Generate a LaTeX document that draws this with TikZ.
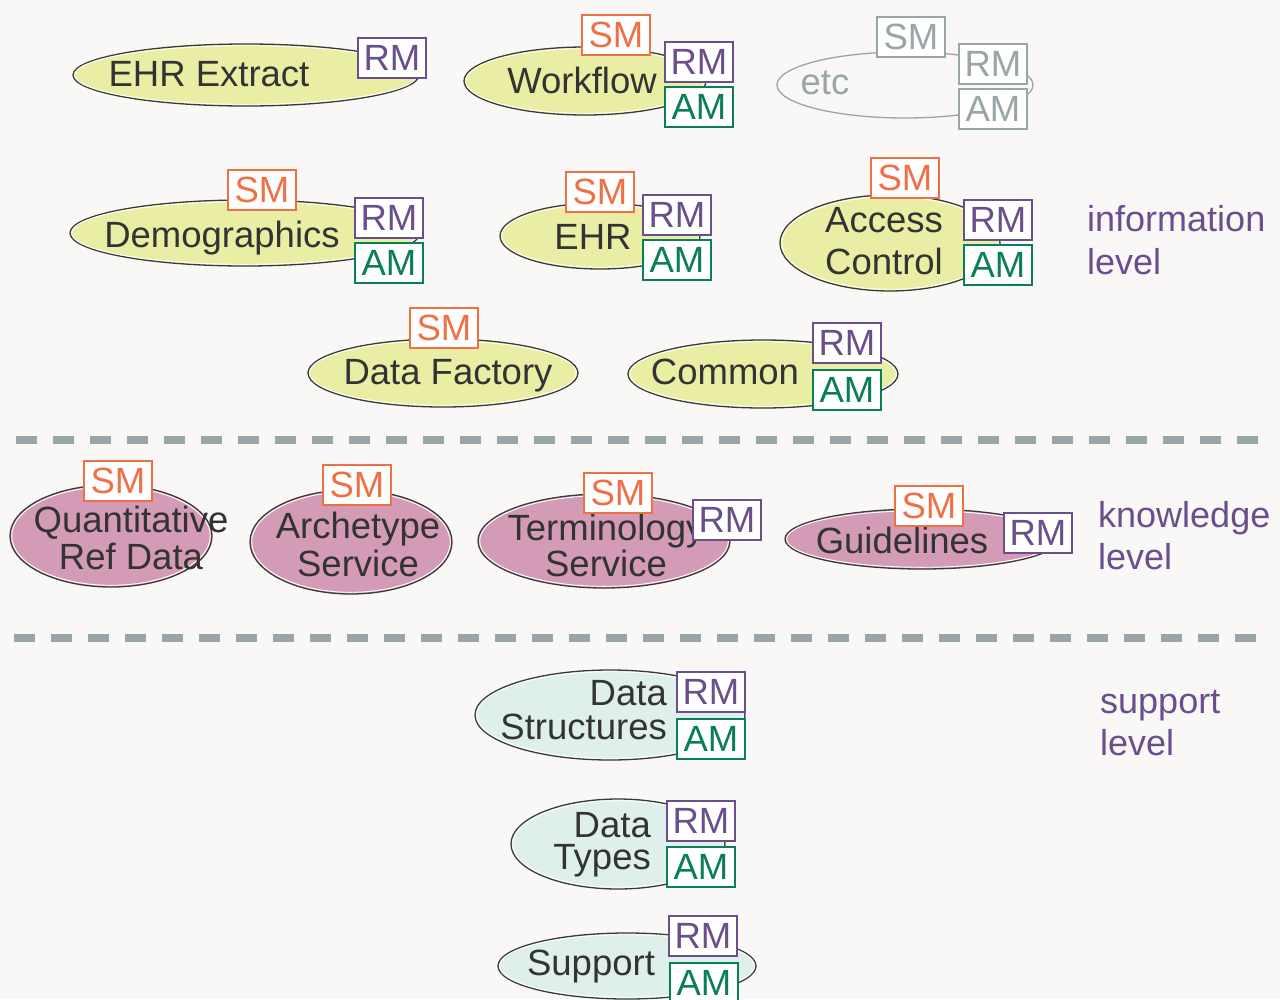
\documentclass[tikz,border=0pt]{standalone}
\usepackage{fontspec}
\setmainfont{Liberation Sans}
\usetikzlibrary{shapes.geometric}

\definecolor{bgc}{HTML}{F9F8F7}
\definecolor{infofill}{HTML}{E9EEA4}
\definecolor{knowfill}{HTML}{D49BB6}
\definecolor{suppfill}{HTML}{DFEFEB}
\definecolor{smc}{HTML}{F07045}
\definecolor{rmc}{HTML}{6A4F8C}
\definecolor{amc}{HTML}{0A7D5A}
\definecolor{greyc}{HTML}{9AA5A8}
\definecolor{inkc}{HTML}{333333}
\definecolor{rimc}{HTML}{3A3A3A}

% package oval: name, x, y, x radius, y radius, fill colour
\newcommand\mkoval[6]{%
  \node[blob, fill=#6, minimum width={2*#4}, minimum height={2*#5}] (#1) at (#2,#3) {};
  \draw[white, line width=0.9pt] (#1.center) ellipse [x radius={#4-1.7}, y radius={#5-1.7}];
}

\begin{document}
\begin{tikzpicture}[x=1pt,y=-1pt,
  blob/.style={ellipse, draw=rimc, line width=1.3pt, inner sep=0pt, outer sep=0pt},
  lbl/.style={text=inkc, inner sep=0pt, font=\fontsize{36.5}{38}\selectfont},
  lbl2/.style={text=inkc, inner sep=0pt, align=center},
  tag/.style={draw, fill=white, line width=1.8pt, minimum width=68pt, minimum height=40pt,
    inner sep=0pt, font=\fontsize{36.5}{37}\selectfont},
  smtag/.style={tag, draw=smc, text=smc},
  rmtag/.style={tag, draw=rmc, text=rmc},
  amtag/.style={tag, draw=amc, text=amc},
  greytag/.style={tag, draw=greyc, text=greyc},
  levellbl/.style={text=rmc, inner sep=0pt, align=left, anchor=west},
  divider/.style={greyc, line width=8pt, dash pattern=on 21pt off 16pt}
]
\path[use as bounding box] (0,0) rectangle (1280,999);
\fill[bgc] (0,0) rectangle (1280,999);
\clip (0,0) rectangle (1280,999);

% ---------- information level ----------
\mkoval{ehrx}{246}{75}{173}{31}{infofill}
\mkoval{wf}{585}{81}{121}{34}{infofill}
\node[ellipse, draw=greyc, line width=1.3pt, inner sep=0pt, minimum width=256pt, minimum height=66pt] (etc) at (905,85) {};
\mkoval{demo}{245}{233}{175}{33}{infofill}
\mkoval{ehr}{600}{236}{100}{33}{infofill}
\mkoval{acc}{890}{243}{110}{48}{infofill}
\mkoval{dfac}{443}{373}{135}{34}{infofill}
\mkoval{comm}{763}{374}{135}{34}{infofill}

\node[lbl, anchor=base] (ehrxT) at (209,86) {EHR Extract};
\node[lbl, anchor=base] (wfT) at (582,93) {Workflow};
\node[lbl, anchor=base, text=greyc] (etcT) at (825,94) {etc};
\node[lbl, anchor=base] (demoT) at (222,247) {Demographics};
\node[lbl, anchor=base] (ehrT) at (593,249) {EHR};
\node[lbl2, font=\fontsize{36.5}{42}\selectfont] (accT) at (884,241) {Access\\Control};
\node[lbl, anchor=base] (dfacT) at (448,384) {Data Factory};
\node[lbl, anchor=base] (commT) at (725,384) {Common};

\node[rmtag] (ehrxR) at (392,58) {RM};
\node[smtag] (wfS) at (616,35) {SM};
\node[rmtag] (wfR) at (699,62) {RM};
\node[amtag] (wfA) at (699,107) {AM};
\node[greytag] (etcS) at (911,37) {SM};
\node[greytag] (etcR) at (993,64) {RM};
\node[greytag] (etcA) at (993,109) {AM};
\node[smtag] (demoS) at (262,190) {SM};
\node[rmtag] (demoR) at (389,218) {RM};
\node[amtag] (demoA) at (389,263) {AM};
\node[smtag] (ehrS) at (600,192) {SM};
\node[rmtag] (ehrR) at (677,215) {RM};
\node[amtag] (ehrA) at (677,260) {AM};
\node[smtag] (accS) at (905,178) {SM};
\node[rmtag] (accR) at (998,220) {RM};
\node[amtag] (accA) at (998,265) {AM};
\node[smtag] (dfacS) at (444,328) {SM};
\node[rmtag] (commR) at (847,343) {RM};
\node[amtag] (commA) at (847,390) {AM};

\node[levellbl, font=\fontsize{36}{43}\selectfont] (infoL) at (1087,240) {information\\level};

% ---------- dividers ----------
\coordinate (divAa) at (16,440);
\coordinate (divAb) at (1262,440);
\coordinate (divBa) at (14,638);
\coordinate (divBb) at (1260,638);
\draw[divider] (divAa) -- (divAb);
\draw[divider] (divBa) -- (divBb);

% ---------- knowledge level ----------
\mkoval{quant}{111}{536}{101}{51}{knowfill}
\mkoval{arch}{351}{542}{101}{52}{knowfill}
\mkoval{term}{604}{541}{126}{47}{knowfill}
\mkoval{guide}{922}{539}{137}{30}{knowfill}

\node[lbl2, font=\fontsize{36.5}{37}\selectfont] (quantT) at (131,538) {Quantitative\\Ref Data};
\node[lbl2, font=\fontsize{36.5}{38}\selectfont] (archT) at (358,544) {Archetype\\Service};
\node[lbl2, font=\fontsize{36.5}{36}\selectfont] (termT) at (606,545) {Terminology\\Service};
\node[lbl, anchor=base] (guideT) at (902,553) {Guidelines};

\node[smtag] (quantS) at (118,481) {SM};
\node[smtag] (archS) at (357,485) {SM};
\node[smtag] (termS) at (618,493) {SM};
\node[rmtag] (termR) at (727,520) {RM};
\node[smtag] (guideS) at (929,506) {SM};
\node[rmtag] (guideR) at (1038,533) {RM};

\node[levellbl, font=\fontsize{36}{42}\selectfont] (knowL) at (1098,536) {knowledge\\level};

% ---------- support level ----------
\mkoval{dstr}{610}{715}{135}{45}{suppfill}
\mkoval{dtyp}{618}{844}{107}{45}{suppfill}
\mkoval{supp}{627}{966}{129}{33}{suppfill}

\node[text=inkc, inner sep=0pt, align=right, anchor=east, font=\fontsize{36.5}{34}\selectfont] (dstrT) at (667,710) {Data\\Structures};
\node[text=inkc, inner sep=0pt, align=right, anchor=east, font=\fontsize{36.5}{32}\selectfont] (dtypT) at (651,845) {Data\\Types};
\node[lbl, anchor=base] (suppT) at (591,975) {Support};

\node[rmtag] (dstrR) at (711,692) {RM};
\node[amtag] (dstrA) at (711,739) {AM};
\node[rmtag] (dtypR) at (701,821) {RM};
\node[amtag] (dtypA) at (701,867) {AM};
\node[rmtag] (suppR) at (703,936) {RM};
\node[amtag] (suppA) at (704,983) {AM};

\node[levellbl, font=\fontsize{36}{42}\selectfont] (suppL) at (1100,723) {support\\level};
\end{tikzpicture}
\end{document}
